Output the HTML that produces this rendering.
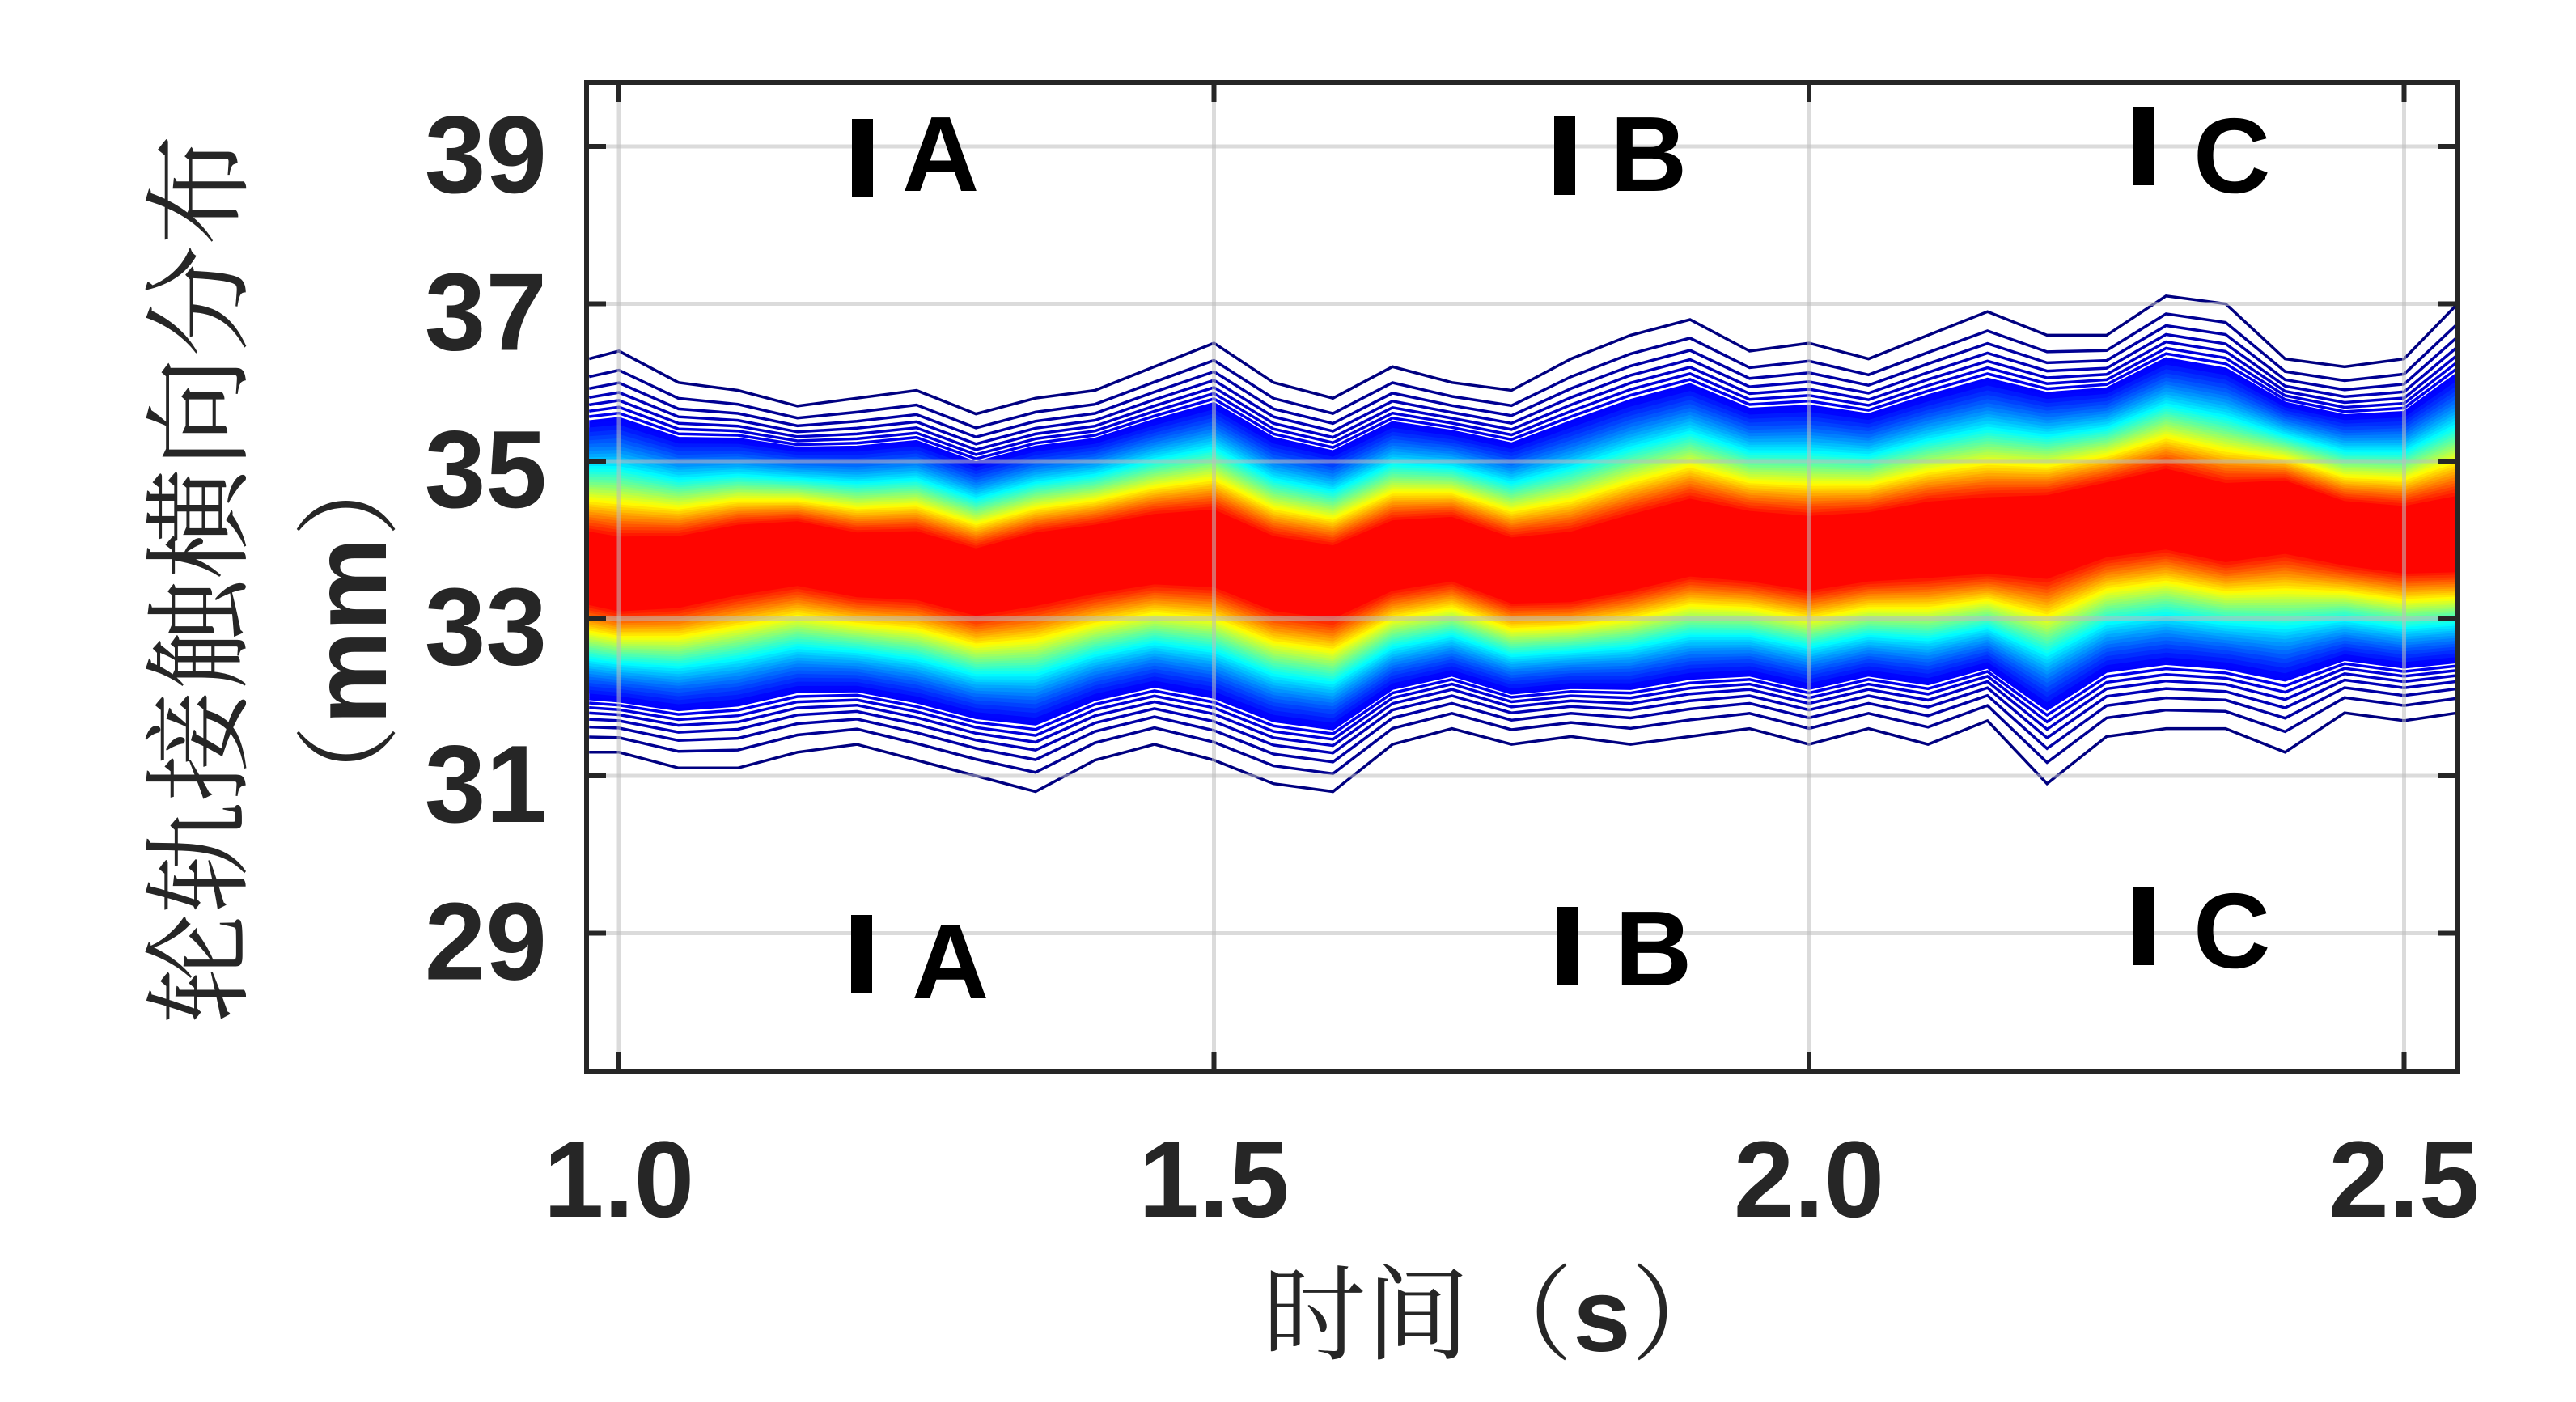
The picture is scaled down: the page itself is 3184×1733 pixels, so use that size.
<!DOCTYPE html>
<html><head><meta charset="utf-8"><style>
html,body{margin:0;padding:0;background:#fff;}
svg{display:block;}
</style></head><body>
<svg id="chart" width="3184" height="1733" viewBox="0 0 3184 1733" xmlns="http://www.w3.org/2000/svg">
<rect width="3184" height="1733" fill="#fff"/>
<g id="marks"></g>
<g id="grid"></g>
<rect x="725" y="102" width="2313" height="1222" fill="none" stroke="#262626" stroke-width="6"/>
<g id="ticks"></g>
<g id="labels" font-family="Liberation Sans, sans-serif" font-weight="bold" fill="#262626"></g>
<text x="249" y="716" transform="rotate(-90 249 716)" text-anchor="middle" dominant-baseline="central" font-family="Liberation Serif, Noto Serif CJK SC, serif" font-size="135" textLength="1100" lengthAdjust="spacingAndGlyphs" fill="#262626">轮轨接触横向分布</text>
<text x="432" y="780" transform="rotate(-90 432 780)" text-anchor="middle" dominant-baseline="central" font-family="Liberation Sans, Noto Serif CJK SC, sans-serif" font-size="130" fill="#262626">（<tspan font-weight="bold">mm</tspan>）</text>
<text x="1852" y="1670" text-anchor="middle" font-family="Liberation Serif, Noto Serif CJK SC, serif" font-size="128" fill="#262626">时间（<tspan font-family="Liberation Sans, sans-serif" font-weight="bold">s</tspan>）</text>
<g id="regions" font-family="Liberation Sans, sans-serif" font-weight="bold" font-size="132" fill="#000"></g>
</svg>
<script>
var times = [0.975,1.00,1.05,1.10,1.15,1.20,1.25,1.30,1.35,1.40,1.45,1.50,1.55,1.60,1.65,1.70,1.75,1.80,1.85,1.90,1.95,2.00,2.05,2.10,2.15,2.20,2.25,2.30,2.35,2.40,2.45,2.50,2.545];
var centerVals = [33.6,33.5,33.6,33.8,33.9,33.7,33.7,33.5,33.7,33.8,33.9,33.9,33.6,33.5,33.8,33.9,33.6,33.6,33.8,34.0,33.9,33.8,33.9,34.0,34.0,34.1,34.3,34.4,34.2,34.4,34.1,34.0,34.0];
var upperVals = [36.3,36.4,36.0,35.9,35.7,35.8,35.9,35.6,35.8,35.9,36.2,36.5,36.0,35.8,36.2,36.0,35.9,36.3,36.6,36.8,36.4,36.5,36.3,36.6,36.9,36.6,36.6,37.1,37.0,36.3,36.2,36.3,37.0];
var lowerVals = [31.3,31.3,31.1,31.1,31.3,31.4,31.2,31.0,30.8,31.2,31.4,31.2,30.9,30.8,31.4,31.6,31.4,31.5,31.4,31.5,31.6,31.4,31.6,31.4,31.7,30.9,31.5,31.6,31.6,31.3,31.8,31.7,31.8];
var xTicks = [1.0,1.5,2.0,2.5];
var xTickLabels = ["1.0","1.5","2.0","2.5"];
var yTicks = [29,31,33,35,37,39];
var yTickLabels = ["29","31","33","35","37","39"];

var NS="http://www.w3.org/2000/svg";
function X(t){ return 765 + (t-1)*1471; }
function Y(v){ return 181 + (39-v)*97.25; }
function mk(tag, attrs, parent){var e=document.createElementNS(NS,tag);for(var k in attrs)e.setAttribute(k,String(attrs[k]));parent.appendChild(e);return e;}
function cl(x){return Math.round(255*Math.max(0,Math.min(1,x)));}
function jet(v){return "rgb("+cl(1.5-Math.abs(4*v-3))+","+cl(1.5-Math.abs(4*v-2))+","+cl(1.5-Math.abs(4*v-1))+")";}
function g(v){return Math.sqrt(Math.log(0.02+0.98*v)/Math.log(0.02));}
function upPts(v){var gv=g(v),a=[];for(var i=0;i<times.length;i++){var c=centerVals[i];a.push([X(times[i]),Y(c+(upperVals[i]-c)*gv)]);}return a;}
function loPts(v){var gv=g(v),a=[];for(var i=0;i<times.length;i++){var c=centerVals[i];a.push([X(times[i]),Y(c-(c-lowerVals[i])*gv)]);}return a;}
function toD(pts,close){var s="";for(var i=0;i<pts.length;i++){s+=(i?" L ":"M ")+Math.round(pts[i][0]*10)/10+" "+Math.round(pts[i][1]*10)/10;}return s+(close?" Z":"");}
var marks=document.getElementById('marks');
for(var k=0;k<=37;k++){
  var v=0.13+k*0.02;
  var pts=upPts(v).concat(loPts(v).reverse());
  var p=mk('path',{d:toD(pts,true),fill:jet(v),stroke:'none'},marks);
  
  
}
for(var m=0;m<8;m++){
  var w=m*0.018;
  var l1=mk('path',{d:toD(upPts(w),false),fill:'none',stroke:jet(w),'stroke-width':3.5},marks);
  
  
  var l2=mk('path',{d:toD(loPts(w),false),fill:'none',stroke:jet(w),'stroke-width':3.5},marks);
  
  
}
var grid=document.getElementById('grid');
xTicks.forEach(function(t){var l=mk('line',{x1:X(t),x2:X(t),y1:102,y2:1324,stroke:'#bdbdbd','stroke-opacity':0.55,'stroke-width':5},grid);
  });
yTicks.forEach(function(v){var l=mk('line',{x1:725,x2:3038,y1:Y(v),y2:Y(v),stroke:'#bdbdbd','stroke-opacity':0.55,'stroke-width':5},grid);
  });
var ticks=document.getElementById('ticks'), labels=document.getElementById('labels');
xTicks.forEach(function(t,i){
  mk('line',{x1:X(t),x2:X(t),y1:1324,y2:1300,stroke:'#262626','stroke-width':6},ticks);
  mk('line',{x1:X(t),x2:X(t),y1:102,y2:126,stroke:'#262626','stroke-width':6},ticks);
  var tx=mk('text',{x:X(t),y:1504,'text-anchor':'middle','font-size':134},labels);
  tx.textContent=xTickLabels[i];
  
  
});
yTicks.forEach(function(v,i){
  mk('line',{x1:725,x2:749,y1:Y(v),y2:Y(v),stroke:'#262626','stroke-width':6},ticks);
  mk('line',{x1:3038,x2:3014,y1:Y(v),y2:Y(v),stroke:'#262626','stroke-width':6},ticks);
  var tx=mk('text',{x:676,y:Y(v)+57,'text-anchor':'end','font-size':136},labels);
  tx.textContent=yTickLabels[i];
  
  
});
var regions=document.getElementById('regions');
var regionLetters=["A","B","C","A","B","C"];
var regionBarX=[1053,1921,2636,1052,1925,2637];
var regionBarY=[147,144,132,1131,1121,1096];
var regionLetterX=[1115,1990,2711,1127,1996,2711];
var regionBaseY=[236,236,238,1234,1218,1196];
for(var i=0;i<6;i++){
  var r=mk('rect',{x:regionBarX[i],y:regionBarY[i],width:26,height:97,fill:'#000'},regions);
  
  
  var tx=mk('text',{x:regionLetterX[i],y:regionBaseY[i]},regions);
  tx.textContent=regionLetters[i];
  
  
}
</script>
</body></html>
